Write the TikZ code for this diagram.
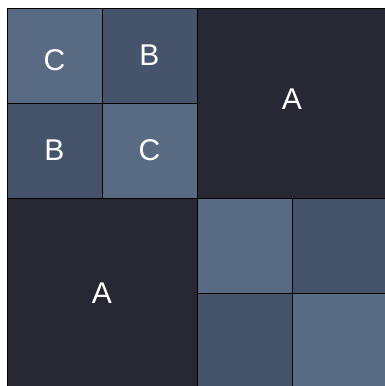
\documentclass[tikz,border=0pt]{standalone}
\usepackage{fontspec}
\setmainfont{Liberation Sans}
\usepackage{xcolor}
\usepackage{tikz}
\usetikzlibrary{positioning}
\definecolor{lightslate}{HTML}{596B83}
\definecolor{midslate}{HTML}{46546B}
\definecolor{darkslate}{HTML}{282834}

\tikzset{
    cell/.style={draw=black, line width=1pt, minimum size=95pt,
                 inner sep=0pt, outer sep=0pt, text=white,
                 font=\fontsize{30}{36}\selectfont},
    bigcell/.style={cell, minimum size=190pt, fill=darkslate},
}

\begin{document}
\begin{tikzpicture}[x=1pt, y=-1pt, node distance=0pt]
        \useasboundingbox (0,0) rectangle (385,386);
        \clip (0,0) rectangle (385,386);

        % top-left quarter
        \node[cell, fill=lightslate, text height=30.5pt] (c1) at (54.5,55.5) {C};
        \node[cell, fill=midslate, right=of c1] (b1) {B};
        \node[cell, fill=midslate, below=of c1] (b2) {B};
        \node[cell, fill=lightslate, below=of b1] (c2) {C};

        % the two big ones
        \node[bigcell, anchor=north west, text depth=8pt] (a1) at (b1.north east) {A};
        \node[bigcell, anchor=north west] (a2) at (b2.south west) {A};

        % bottom-right quarter
        \node[cell, fill=lightslate, anchor=north west] (q1) at (a2.north east) {};
        \node[cell, fill=midslate, right=of q1] (q2) {};
        \node[cell, fill=midslate, below=of q1] (q3) {};
        \node[cell, fill=lightslate, below=of q2] (q4) {};
    \end{tikzpicture}
\end{document}
